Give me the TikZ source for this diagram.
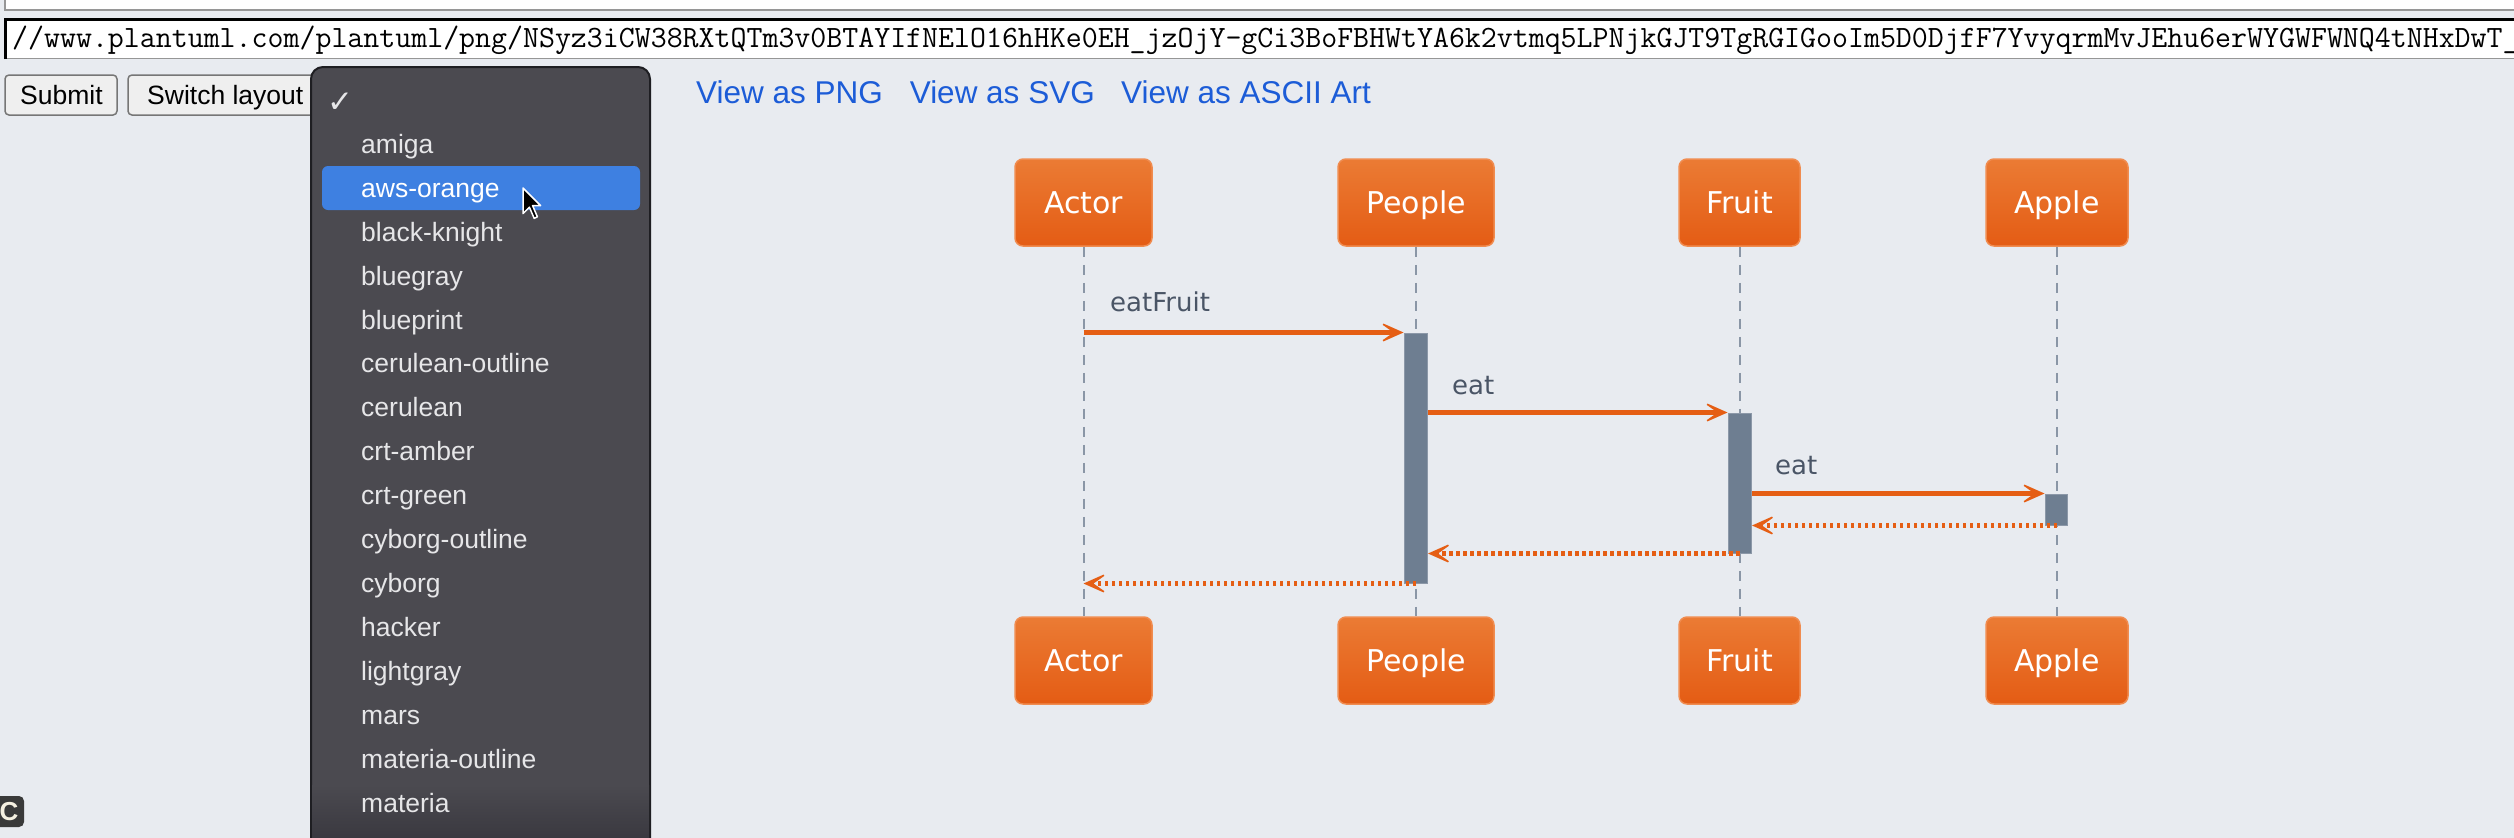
\documentclass[tikz,border=0pt]{standalone}
\usepackage{fontspec}
\setmainfont{Liberation Sans}
\newfontfamily\dvfont{DejaVu Sans}
\usetikzlibrary{arrows.meta}
\definecolor{bg}{RGB}{232,235,240}
\definecolor{orTop}{RGB}{235,123,52}
\definecolor{orBot}{RGB}{228,92,20}
\definecolor{orEdge}{RGB}{240,140,80}
\definecolor{orLine}{RGB}{229,94,20}
\definecolor{actFill}{RGB}{110,126,145}
\definecolor{actEdge}{RGB}{140,152,168}
\definecolor{lifeGray}{RGB}{138,150,166}
\definecolor{lblGray}{RGB}{74,85,102}
\definecolor{linkBlue}{RGB}{28,92,215}
\definecolor{menuBg}{RGB}{75,74,80}
\definecolor{menuBot}{RGB}{58,57,64}
\definecolor{menuEdge}{RGB}{30,30,34}
\definecolor{menuTxt}{RGB}{230,230,232}
\definecolor{selBlue}{RGB}{62,128,225}
\definecolor{btnFill}{RGB}{239,239,239}
\definecolor{btnLine}{RGB}{118,118,118}
\definecolor{fieldGray}{RGB}{150,150,150}
\definecolor{iconDark}{RGB}{58,58,58}
\definecolor{iconCream}{RGB}{245,240,225}
\begin{document}
\begin{tikzpicture}[x=1pt,y=-1pt,
  partbox/.style={rounded corners=8pt, top color=orTop, bottom color=orBot,
    draw=orEdge, line width=1.5pt, minimum height=87pt, inner sep=0pt,
    text=white, font=\dvfont\fontsize{30}{36}\selectfont,
    text height=21.5pt, text depth=0pt},
  actbar/.style={rectangle, fill=actFill, draw=actEdge, line width=1pt, inner sep=0pt},
  lifeline/.style={draw=lifeGray, line width=2pt, dash pattern=on 10pt off 8pt},
  msg/.style={draw=orLine, line width=5pt,
    -{Stealth[length=27pt, width=24pt, inset=17pt, line width=1.5pt]}},
  retmsg/.style={msg, dash pattern=on 3.5pt off 3.5pt},
  lbl/.style={anchor=base west, inner sep=0pt, text=lblGray,
    font=\dvfont\fontsize{26}{30}\selectfont},
  btnshape/.style={fill=btnFill, draw=btnLine, line width=1.5pt, rounded corners=4pt},
  btntext/.style={anchor=base west, inner sep=0pt, text=black,
    font=\fontsize{26.5}{30}\selectfont},
  linktext/.style={anchor=base west, inner sep=0pt, text=linkBlue,
    font=\fontsize{31.5}{36}\selectfont},
  menuitem/.style={anchor=base west, inner sep=0pt, text=menuTxt,
    font=\fontsize{26.5}{30}\selectfont}
]
\useasboundingbox (0,0) rectangle (2514,838);
\clip (0,0) rectangle (2514,838);
\fill[bg] (0,0) rectangle (2514,838);

% ---- browser UI ----
\path[fill=white, draw=fieldGray, line width=1.5pt] (5,-20) rectangle (2540,10);
\path[fill=white] (4,18) rectangle (2540,59);
\draw[fieldGray, line width=1.5pt] (4,58.5) -- (2540,58.5);
\draw[black, line width=3pt] (5.5,59) -- (5.5,19.5) -- (2540,19.5);
\node[anchor=base west, inner sep=0pt, text=black,
  font=\ttfamily\fontsize{31}{34}\selectfont] (url) at (12,47)
  {//www.plantuml.com/plantuml/png/NSyz3iCW38RXtQTm3v0BTAYIfNElO16hHKe0EH\_jzOjY-gCi3BoFBHWtYA6k2vtmq5LPNjkGJT9TgRGIGooIm5D0DjfF7YvyqrmMvJEhu6erWYGWFWNQ4tNHxDwT\_};

\path[btnshape] (5,75) rectangle (117,115);
\node[btntext] (submit) at (20,104) {Submit};
\path[btnshape] (128,75) rectangle (345,115);
\node[btntext] (switch) at (147,104) {Switch layout};

\node[linktext] (png) at (696,103) {View as PNG};
\node[linktext] (svg) at (909.6,103) {View as SVG};
\node[linktext] (ascii) at (1121,103) {View as ASCII Art};

% ---- dropdown menu ----
\path[fill=menuBg, draw=menuEdge, line width=2pt, rounded corners=12pt] (311,67) rectangle (650,900);
\path[top color=menuBg, bottom color=menuBot] (312,785) rectangle (649,838);
\node[anchor=base west, inner sep=0pt, text=menuTxt,
  font=\dvfont\fontsize{31}{32}\selectfont] (check) at (327,112) {✓};
\path[fill=selBlue, rounded corners=6pt] (322,166) rectangle (640,210);
\node[menuitem] (m0) at (361,153) {amiga};
\node[menuitem, text=white] (m1) at (361,197) {aws-orange};
\node[menuitem] (m2) at (361,241) {black-knight};
\node[menuitem] (m3) at (361,285) {bluegray};
\node[menuitem] (m4) at (361,329) {blueprint};
\node[menuitem] (m5) at (361,372.5) {cerulean-outline};
\node[menuitem] (m6) at (361,416.5) {cerulean};
\node[menuitem] (m7) at (361,460.5) {crt-amber};
\node[menuitem] (m8) at (361,504.5) {crt-green};
\node[menuitem] (m9) at (361,548) {cyborg-outline};
\node[menuitem] (m10) at (361,592) {cyborg};
\node[menuitem] (m11) at (361,636) {hacker};
\node[menuitem] (m12) at (361,680) {lightgray};
\node[menuitem] (m13) at (361,724) {mars};
\node[menuitem] (m14) at (361,768) {materia-outline};
\node[menuitem] (m15) at (361,812) {materia};

% mouse pointer
\path[fill=black, draw=white, line width=1.5pt, line join=round, shift={(523,188)}]
  (0,0) -- (0,25.6) -- (6.4,19.2) -- (11.2,30.4) -- (14.4,28.8) -- (9.6,17.6) -- (17.6,17.6) -- cycle;

% bottom-left icon
\path[fill=iconDark, rounded corners=5pt] (-10,796) rectangle (24,827);
\node[inner sep=0pt, text=iconCream, font=\bfseries\fontsize{26}{26}\selectfont] (cicon) at (9,811.5) {C};

% ---- sequence diagram ----
\node[partbox, minimum width=137pt] (Atop) at (1083.5,202.5) {Actor};
\node[partbox, minimum width=156pt] (Ptop) at (1416,202.5) {People};
\node[partbox, minimum width=121pt] (Ftop) at (1739.5,202.5) {Fruit};
\node[partbox, minimum width=142pt] (Xtop) at (2057,202.5) {Apple};
\node[partbox, minimum width=137pt] (Abot) at (1083.5,660.5) {Actor};
\node[partbox, minimum width=156pt] (Pbot) at (1416,660.5) {People};
\node[partbox, minimum width=121pt] (Fbot) at (1739.5,660.5) {Fruit};
\node[partbox, minimum width=142pt] (Xbot) at (2057,660.5) {Apple};

\draw[lifeline] (Atop.south) -- (Abot.north);
\draw[lifeline] (Ptop.south) -- (Pbot.north);
\draw[lifeline] (Ftop.south) -- (Fbot.north);
\draw[lifeline] (Xtop.south) -- (Xbot.north);

\node[actbar, minimum width=23.5pt, minimum height=250pt] (actP) at (1415.75,458) {};
\node[actbar, minimum width=23.5pt, minimum height=140pt] (actF) at (1739.75,483) {};
\node[actbar, minimum width=22pt, minimum height=31pt] (actA) at (2056,509.5) {};

\draw[msg] (Atop.south |- actP.north) -- (actP.north west);
\draw[msg] (actP.east |- actF.north) -- (actF.north west);
\draw[msg] (actF.east |- actA.north) -- (actA.north west);
\draw[retmsg] (Xtop.south |- actA.south) -- (actF.east |- actA.south);
\draw[retmsg] (Ftop.south |- actF.south) -- (actP.east |- actF.south);
\draw[retmsg] (Ptop.south |- actP.south) -- (Atop.south |- actP.south);

\node[lbl] (l1) at (1110,311.5) {eatFruit};
\node[lbl] (l2) at (1452,394) {eat};
\node[lbl] (l3) at (1775,474) {eat};
\end{tikzpicture}
\end{document}
